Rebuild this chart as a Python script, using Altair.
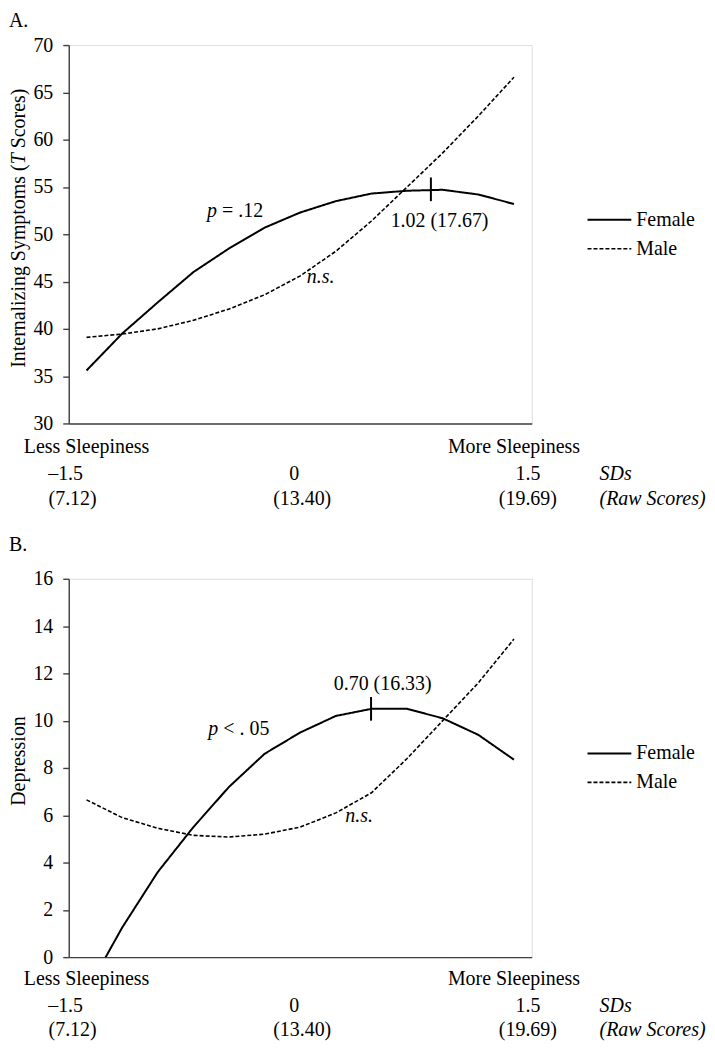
import altair as alt
import pandas as pd

FONT = "Liberation Serif"
FS = 20
AXC = "#404040"

# ---------------- data ----------------
x_sd = [-1.5, -1.25, -1.0, -0.75, -0.5, -0.25, 0.0, 0.25, 0.5, 0.75, 1.0, 1.25, 1.5]
series_names = ["Female", "Male"]

a_female = [35.6, 39.5, 42.8, 46.0, 48.5, 50.7, 52.3, 53.5, 54.3, 54.6, 54.7, 54.2, 53.2]
a_male = [39.1, 39.45, 40.0, 40.9, 42.1, 43.6, 45.6, 48.2, 51.4, 55.0, 58.6, 62.5, 66.6]
b_female = [-1.45, 1.25, 3.6, 5.5, 7.2, 8.6, 9.5, 10.2, 10.5, 10.5, 10.1, 9.4, 8.35]
b_male = [6.65, 5.9, 5.45, 5.15, 5.08, 5.2, 5.5, 6.1, 6.95, 8.4, 10.0, 11.6, 13.45]

a_yticks = [30, 35, 40, 45, 50, 55, 60, 65, 70]
b_yticks = [0, 2, 4, 6, 8, 10, 12, 14, 16]

sd_ticks = [-1.5, 0.0, 1.5]
sd_labels = ["\u20131.5", "0", "1.5"]
raw_labels = ["(7.12)", "(13.40)", "(19.69)"]
end_labels = ["Less Sleepiness", "More Sleepiness"]
unit_labels = ["SDs", "(Raw Scores)"]

# annotations (text, sd, value, italic, align)
a_notes = [("p", -0.584, 52.45, True, "right"), ("= .12", -0.584, 52.45, False, "left"),
           ("n.s.", 0.143, 45.5, True, "center"), ("1.02 (17.67)", 0.978, 51.4, False, "center")]
b_notes = [("p", -0.575, 9.64, True, "right"), ("< . 05", -0.575, 9.64, False, "left"),
           ("n.s.", 0.413, 5.97, True, "center"), ("0.70 (16.33)", 0.579, 11.57, False, "center")]
a_mark = (0.917, 53.5, 56.0)
b_mark = (0.497, 10.0, 11.0)

W, H = 465, 380
XDOM = [-1.625, 1.625]

dash_scale = alt.Scale(domain=series_names, range=[[1, 0], [4, 2]])
width_scale = alt.Scale(domain=series_names, range=[2.0, 1.6])


def lines_df(female, male):
    rows = []
    for s, vals in zip(series_names, [female, male]):
        for x, v in zip(x_sd, vals):
            rows.append({"sd": x, "value": v, "series": s})
    return pd.DataFrame(rows)


def ptext(text, x, y, align="center", italic=False, angle=0):
    return alt.Chart(pd.DataFrame({"t": [text]})).mark_text(
        font=FONT, fontSize=FS, color="black", align=align, baseline="middle",
        fontStyle="italic" if italic else "normal", angle=angle
    ).encode(x=alt.value(x), y=alt.value(y), text="t:N")


def panel(female, male, yticks, ydom, notes, mark, title_layers, plabel, plabel_y, rows):
    xs = alt.Scale(domain=XDOM, nice=False, zero=False)
    ys = alt.Scale(domain=ydom, nice=False, zero=False)
    xaxis = alt.Axis(labels=False, ticks=False, title=None, grid=False,
                     domainColor=AXC, domainWidth=1.4)
    yaxis = alt.Axis(values=yticks, title=None, grid=False, tickSize=6, tickColor=AXC,
                     tickWidth=1.4, domainColor=AXC, domainWidth=1.4, labelFont=FONT,
                     labelFontSize=FS, labelColor="black", labelPadding=10)

    def X():
        return alt.X("sd:Q", scale=xs, axis=xaxis)

    def Y():
        return alt.Y("value:Q", scale=ys, axis=yaxis)

    layers = []
    layers.append(
        alt.Chart(lines_df(female, male)).mark_line(color="black", clip=True).encode(
            x=X(), y=Y(),
            strokeDash=alt.StrokeDash("series:N", scale=dash_scale, legend=None),
            strokeWidth=alt.StrokeWidth("series:N", scale=width_scale, legend=None),
        )
    )
    layers.append(
        alt.Chart(pd.DataFrame({"sd": [mark[0]], "value": [mark[1]], "value2": [mark[2]]}))
        .mark_rule(color="black", strokeWidth=2)
        .encode(x=X(), y=Y(), y2="value2:Q")
    )
    for text, sx, vy, it, al in notes:
        layers.append(
            alt.Chart(pd.DataFrame({"sd": [sx], "value": [vy], "t": [text]})).mark_text(
                font=FONT, fontSize=FS, color="black", align=al, baseline="middle",
                fontStyle="italic" if it else "normal", dx=(5 if al == "left" else 0)
            ).encode(x=X(), y=Y(), text="t:N")
        )

    def xlabel(text, sx, dx, row_y, italic=False, align="center"):
        return alt.Chart(pd.DataFrame({"sd": [sx], "t": [text]})).mark_text(
            font=FONT, fontSize=FS, color="black", align=align, baseline="middle",
            fontStyle="italic" if italic else "normal", dx=dx
        ).encode(x=X(), y=alt.value(row_y), text="t:N")

    r1, r2, r3 = rows
    layers.append(xlabel(end_labels[0], sd_ticks[0], 0, H + r1))
    layers.append(xlabel(end_labels[1], sd_ticks[2], 0, H + r1))
    for lab, sx, dx in zip(sd_labels, sd_ticks, [-21, -6, 14]):
        layers.append(xlabel(lab, sx, dx, H + r2))
    for lab, sx, dx in zip(raw_labels, sd_ticks, [-14, 2, 14]):
        layers.append(xlabel(lab, sx, dx, H + r3))
    layers.append(xlabel(unit_labels[0], sd_ticks[2], 86, H + r2, italic=True, align="left"))
    layers.append(xlabel(unit_labels[1], sd_ticks[2], 86, H + r3, italic=True, align="left"))

    for s, ly in zip(series_names, [H / 2 - 14.5, H / 2 + 14.5]):
        layers.append(
            alt.Chart(pd.DataFrame({"series": [s]})).mark_rule(color="black").encode(
                x=alt.value(521), x2=alt.value(565), y=alt.value(ly),
                strokeDash=alt.StrokeDash("series:N", scale=dash_scale, legend=None),
                strokeWidth=alt.StrokeWidth("series:N", scale=width_scale, legend=None),
            )
        )
        layers.append(ptext(s, 570, ly, align="left"))

    layers.extend(title_layers)
    layers.append(ptext(plabel, -60, plabel_y, align="left"))

    return alt.layer(*layers).properties(width=W, height=H)


tc = H / 2 - 6
a_title = [
    ptext("Internalizing Symptoms (", -50, tc - 64.2, align="right", angle=270),
    ptext("T", -50, tc - 64.2, align="left", italic=True, angle=270),
    ptext("Scores)", -50, tc - 80.3, align="left", angle=270),
]
b_title = [ptext("Depression", -50, H / 2 - 7, align="center", angle=270)]

panel_a = panel(a_female, a_male, a_yticks, [30, 70], a_notes, a_mark, a_title, "A.", -24,
                (24, 51, 76))
panel_b = panel(b_female, b_male, b_yticks, [0, 16], b_notes, b_mark, b_title, "B.", -34,
                (22, 49, 73))

chart = alt.vconcat(panel_a, panel_b, spacing=156).properties(
    bounds="flush", padding={"left": 0, "top": 0, "right": 0, "bottom": 0}
).configure_view(stroke="#8c8c8c", strokeWidth=1.3).configure(background="white")

chart.save("out.html", embed_options={"renderer": "svg", "actions": False})
